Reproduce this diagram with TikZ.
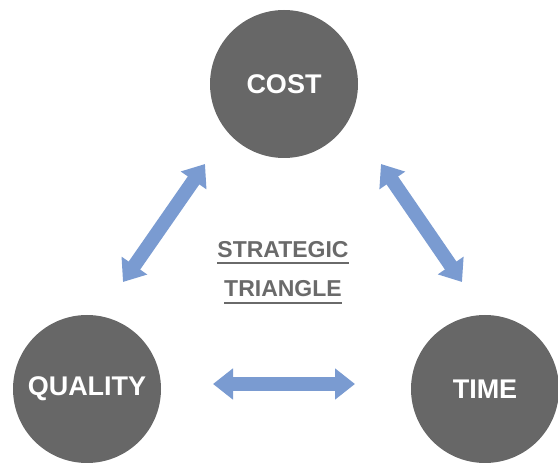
\documentclass[tikz,border=0pt]{standalone}
\usepackage{fontspec}
\setmainfont{Liberation Sans}
\usetikzlibrary{arrows.meta}

\begin{document}
\begin{tikzpicture}[x=1pt,y=-1pt,
		corner/.style={circle,fill=circgray,minimum size=148pt,inner sep=0pt,text=white,font=\fontsize{27}{32}\selectfont\bfseries},
		link/.style={draw=linkblue,line width=14pt,{Triangle[width=30pt,length=20pt]}-{Triangle[width=30pt,length=20pt]}},
		title/.style={text=titlegray,inner sep=0pt,anchor=base,font=\fontsize{23}{28}\selectfont\bfseries}]
		\definecolor{circgray}{HTML}{676767}
		\definecolor{linkblue}{HTML}{7A9BD1}
		\definecolor{titlegray}{HTML}{6A6A6A}
		\useasboundingbox (0,0) rectangle (558,465);
		% corners
		\node[corner] (cost) at (284,84) {COST};
		\node[corner] (quality) at (87,389) {QUALITY};
		\node[corner] (time) at (485,389) {TIME};
		% arrow ends
		\coordinate (ql) at (123,282);
		\coordinate (cl) at (205,164);
		\coordinate (cr) at (381,164);
		\coordinate (tr) at (462,282);
		\coordinate (qb) at (213,384);
		\coordinate (tb) at (355,384);
		% arrows
		\draw[link] (ql) -- (cl);
		\draw[link] (cr) -- (tr);
		\draw[link] (qb) -- (tb);
		% title
		\node[title] (s1) at (283,258) {STRATEGIC};
		\node[title] (s2) at (283,297) {TRIANGLE};
		\draw[titlegray,line width=2pt] ([yshift=-5pt]s1.base west) -- ([yshift=-5pt]s1.base east);
		\draw[titlegray,line width=2pt] ([yshift=-6pt]s2.base west) -- ([yshift=-6pt]s2.base east);
\end{tikzpicture}
\end{document}
